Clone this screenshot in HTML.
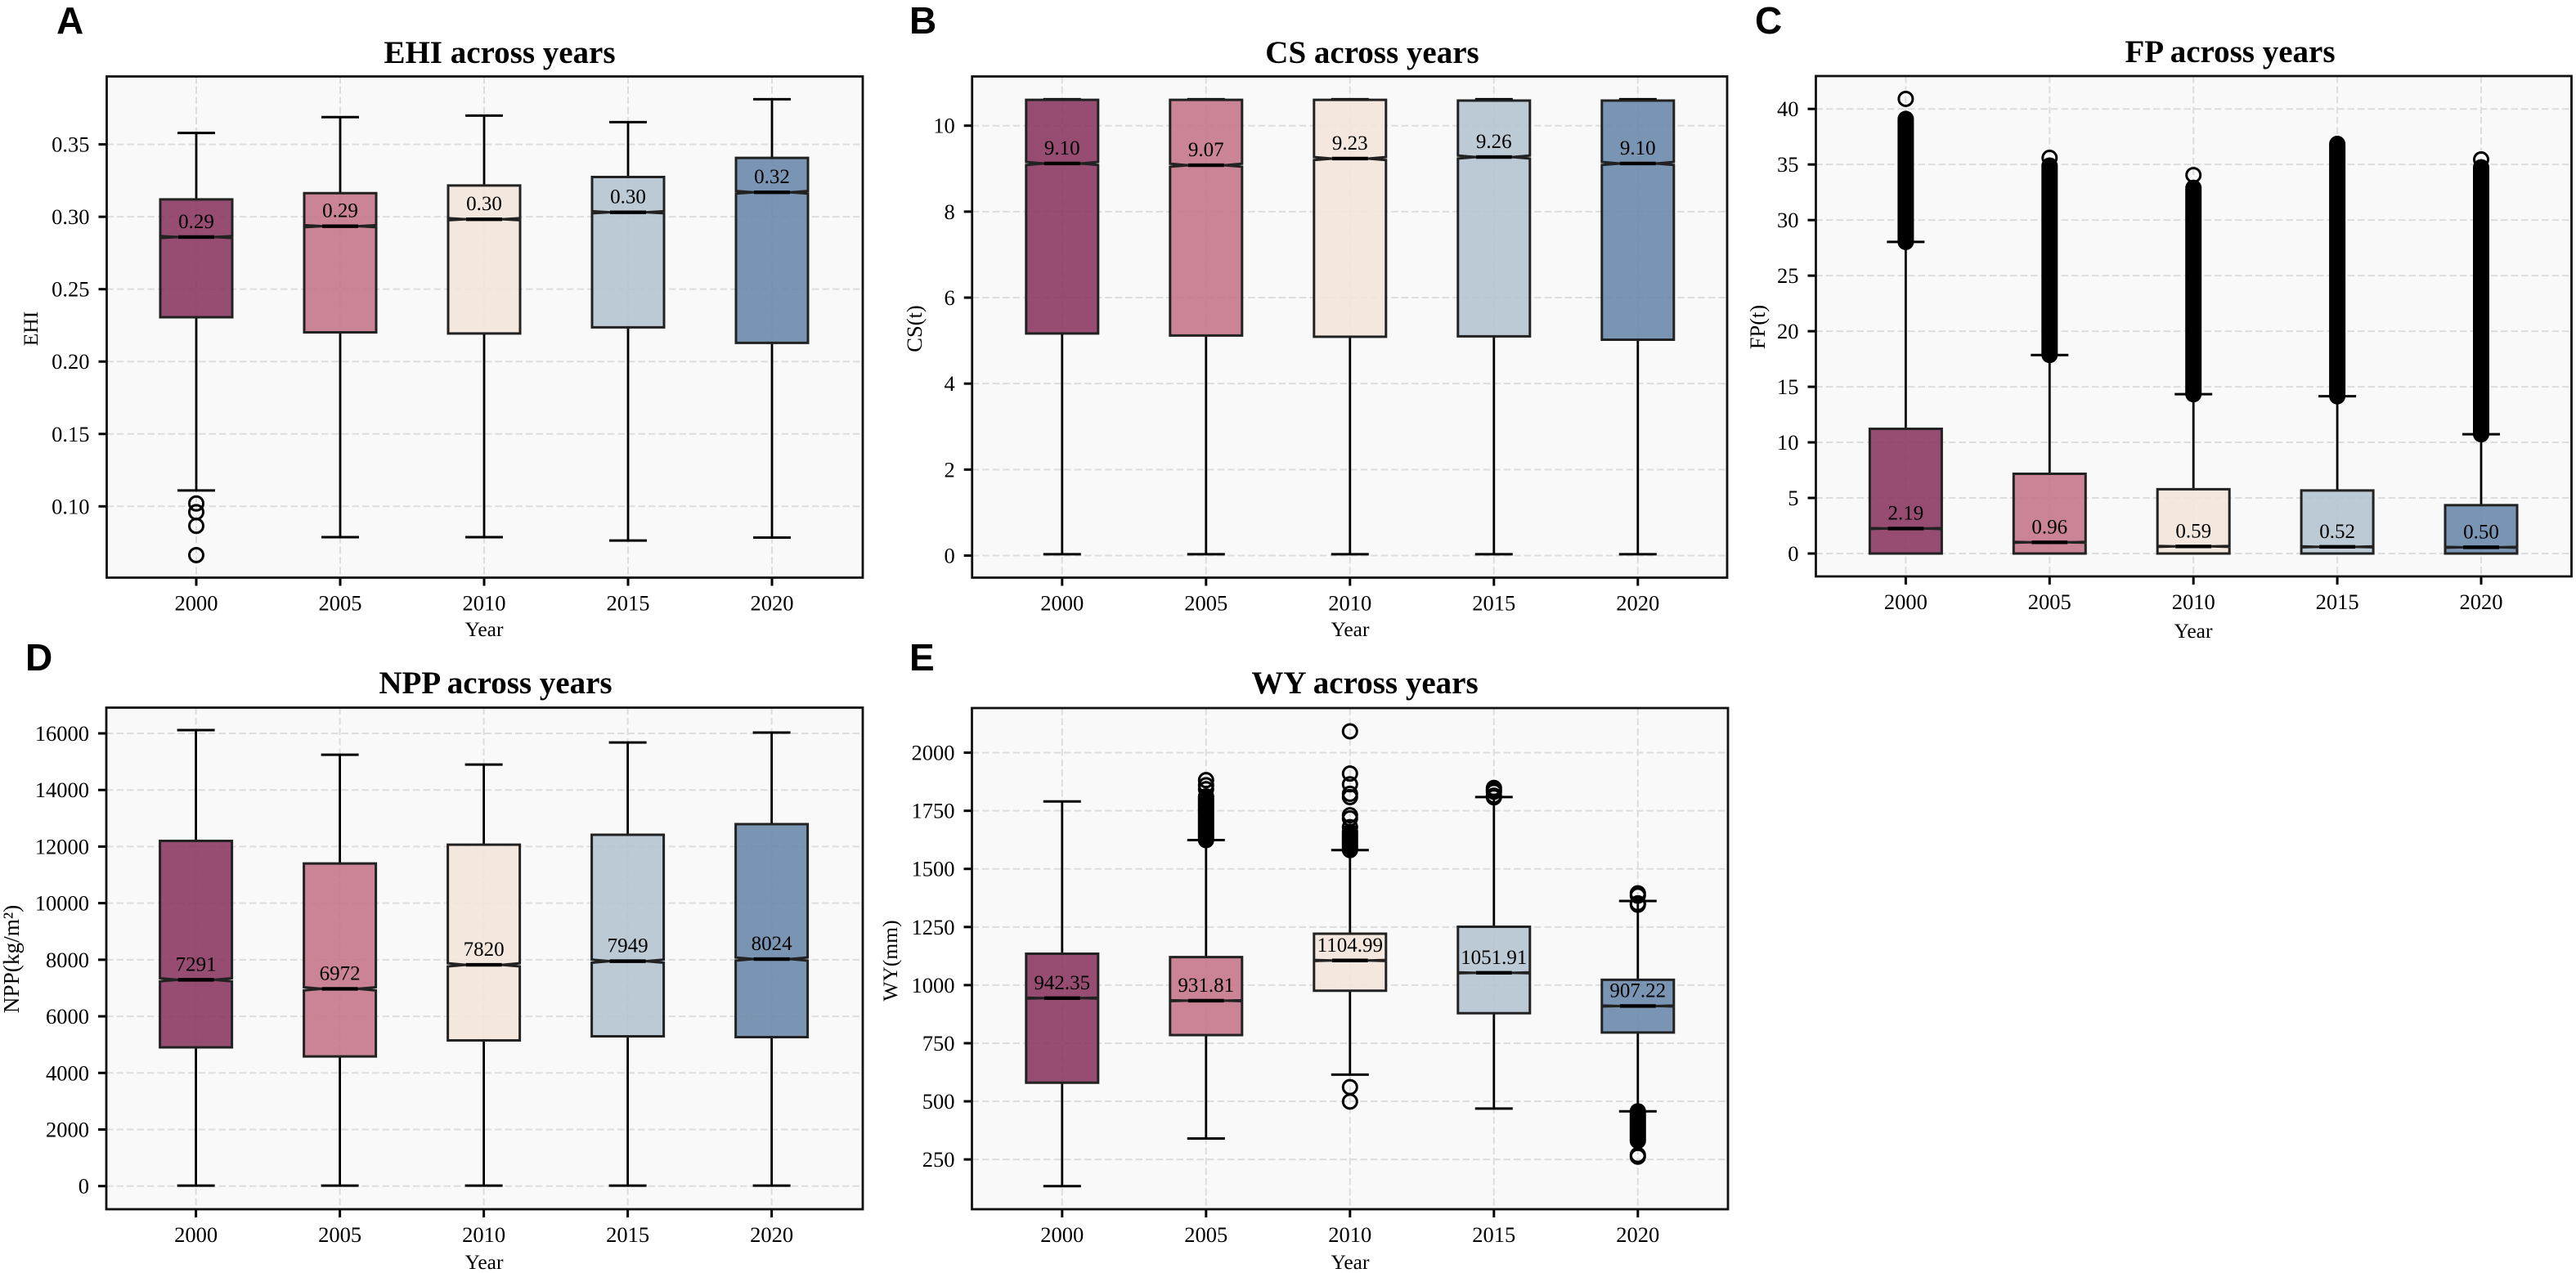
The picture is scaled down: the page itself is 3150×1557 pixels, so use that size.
<!DOCTYPE html>
<html lang="en">
<head>
<meta charset="utf-8">
<title>Boxplots of EHI, CS, FP, NPP and WY across years</title>
<style>
  html, body { margin: 0; padding: 0; background: #ffffff; }
  svg { display: block; font-family: "Liberation Serif", serif; }
  .panel-letter { font-family: "Liberation Sans", sans-serif; font-weight: 700; font-size: 46px; fill: #000; }
  .title { font-weight: 700; font-size: 39px; fill: #000; text-anchor: middle; }
  .axis-label { font-size: 25.5px; fill: #000; text-anchor: middle; }
  .tick-label { font-size: 26.5px; fill: #000; }
  .value-label { font-size: 25px; fill: #000; text-anchor: middle; }
</style>
</head>
<body>
<svg id="figure" xmlns="http://www.w3.org/2000/svg" width="3150" height="1557" viewBox="0 0 3150 1557">
  <rect x="0" y="0" width="3150" height="1557" fill="#ffffff"/>

  <g id="panel-ehi"></g>
  <g id="panel-cs"></g>
  <g id="panel-fp"></g>
  <g id="panel-npp"></g>
  <g id="panel-wy"></g>

  <text class="panel-letter" x="69" y="41">A</text>
  <text class="panel-letter" x="1112" y="41">B</text>
  <text class="panel-letter" x="2146" y="41">C</text>
  <text class="panel-letter" x="31" y="820">D</text>
  <text class="panel-letter" x="1112" y="820">E</text>

  <text class="title" x="611" y="77">EHI across years</text>
  <text class="title" x="1678" y="77">CS across years</text>
  <text class="title" x="2727" y="76">FP across years</text>
  <text class="title" x="606" y="848">NPP across years</text>
  <text class="title" x="1669" y="848">WY across years</text>

  <text class="axis-label" x="592" y="778">Year</text>
  <text class="axis-label" x="1651" y="778">Year</text>
  <text class="axis-label" x="2682" y="780">Year</text>
  <text class="axis-label" x="592" y="1552">Year</text>
  <text class="axis-label" x="1651" y="1552">Year</text>

  <text class="axis-label" transform="translate(46 402) rotate(-90)">EHI</text>
  <text class="axis-label" style="font-size:26.5px" transform="translate(1127 402) rotate(-90)">CS(t)</text>
  <text class="axis-label" style="font-size:26.5px" transform="translate(2158 400) rotate(-90)">FP(t)</text>
  <text class="axis-label" style="font-size:27.3px" transform="translate(23 1173) rotate(-90)">NPP(kg/m²)</text>
  <text class="axis-label" transform="translate(1097 1175) rotate(-90)">WY(mm)</text>
</svg>

<script>
// ---------- shared categories ----------
const years = ['2000', '2005', '2010', '2015', '2020'];

// ---------- EHI ----------
const ehiTicks = [0.10, 0.15, 0.20, 0.25, 0.30, 0.35];
const ehiTickLabels = ['0.10', '0.15', '0.20', '0.25', '0.30', '0.35'];
const ehiLow = [0.111, 0.0787, 0.0787, 0.0764, 0.0784];
const ehiQ1 = [0.2306, 0.2202, 0.2194, 0.2236, 0.2129];
const ehiMedian = [0.2860, 0.2935, 0.2983, 0.3031, 0.3169];
const ehiQ3 = [0.3120, 0.3163, 0.3216, 0.3275, 0.3407];
const ehiHigh = [0.3579, 0.3688, 0.3699, 0.3654, 0.3812];
const ehiLabels = ['0.29', '0.29', '0.30', '0.30', '0.32'];
const ehiNotch = [0.0007, 0.0007, 0.0007, 0.0007, 0.0009];
const ehiOutliers = [[0.102, 0.096, 0.0865, 0.0663], [], [], [], []];
const ehiBands = [[], [], [], [], []];

// ---------- CS ----------
const csTicks = [0, 2, 4, 6, 8, 10];
const csTickLabels = ['0', '2', '4', '6', '8', '10'];
const csLow = [0.03, 0.03, 0.03, 0.03, 0.03];
const csQ1 = [5.165, 5.118, 5.09, 5.10, 5.02];
const csMedian = [9.12, 9.08, 9.234, 9.27, 9.12];
const csQ3 = [10.6, 10.6, 10.6, 10.585, 10.585];
const csHigh = [10.615, 10.615, 10.615, 10.615, 10.615];
const csLabels = ['9.10', '9.07', '9.23', '9.26', '9.10'];
const csNotch = [0.035, 0.035, 0.035, 0.035, 0.035];
const csOutliers = [[], [], [], [], []];
const csBands = [[], [], [], [], []];

// ---------- FP ----------
const fpTicks = [0, 5, 10, 15, 20, 25, 30, 35, 40];
const fpTickLabels = ['0', '5', '10', '15', '20', '25', '30', '35', '40'];
const fpLow = [0, 0, 0, 0, 0];
const fpQ1 = [0, 0, 0, 0, 0];
const fpMedian = [2.25, 1.01, 0.64, 0.60, 0.56];
const fpQ3 = [11.22, 7.17, 5.78, 5.67, 4.35];
const fpHigh = [28.03, 17.86, 14.33, 14.15, 10.73];
const fpLabels = ['2.19', '0.96', '0.59', '0.52', '0.50'];
const fpNotch = [0.04, 0.04, 0.04, 0.04, 0.04];
const fpOutliers = [[40.9], [35.6], [34.05], [36.85], [35.45]];
const fpBands = [[[28.03, 39.1]], [[17.86, 34.9]], [[14.33, 32.9]], [[14.15, 36.7]], [[10.73, 34.75]]];

// ---------- NPP ----------
const nppTicks = [0, 2000, 4000, 6000, 8000, 10000, 12000, 14000, 16000];
const nppTickLabels = ['0', '2000', '4000', '6000', '8000', '10000', '12000', '14000', '16000'];
const nppLow = [15, 15, 15, 15, 15];
const nppQ1 = [4903, 4584, 5149, 5294, 5265];
const nppMedian = [7291, 6972, 7820, 7949, 8024];
const nppQ3 = [12199, 11401, 12068, 12416, 12794];
const nppHigh = [16115, 15245, 14897, 15680, 16029];
const nppLabels = ['7291', '6972', '7820', '7949', '8024'];
const nppNotch = [55, 55, 55, 55, 55];
const nppOutliers = [[], [], [], [], []];
const nppBands = [[], [], [], [], []];

// ---------- WY ----------
const wyTicks = [250, 500, 750, 1000, 1250, 1500, 1750, 2000];
const wyTickLabels = ['250', '500', '750', '1000', '1250', '1500', '1750', '2000'];
const wyLow = [135, 340, 615, 469, 457];
const wyQ1 = [580, 785, 976, 879, 796];
const wyMedian = [944, 933, 1106, 1053, 910];
const wyQ3 = [1135, 1120.6, 1221, 1251, 1023];
const wyHigh = [1790, 1624, 1581, 1809, 1362];
const wyLabels = ['942.35', '931.81', '1104.99', '1051.91', '907.22'];
const wyNotch = [2, 2, 2, 2, 2];
const wyOutliers = [
  [],
  [1882, 1860, 1843],
  [2092, 1910, 1864, 1823, 1809, 1731, 1717, 1680, 561, 499],
  [1848, 1840, 1832, 1815, 1808],
  [1395, 1385, 1352, 1346, 269, 262]
];
const wyBands = [[], [[1624, 1812]], [[1581, 1660]], [], [[457, 330]]];

// ---------- figure styling (not data) ----------
const boxFills = ['#8B3A62', '#C4778A', '#F3E5DA', '#B5C4D1', '#6B8AAB'];
const NS = 'http://www.w3.org/2000/svg';

const panels = [
  { key: 'ehi', node: 'panel-ehi', left: 130.5, right: 1055, top: 93.5, bottom: 706.5, firstX: 240, stepX: 176,
    vA: 0.35, pxA: 176.6, vB: 0.10, pxB: 619.3,
    ticks: ehiTicks, tickLabels: ehiTickLabels, low: ehiLow, q1: ehiQ1, median: ehiMedian, q3: ehiQ3, high: ehiHigh,
    labels: ehiLabels, notch: ehiNotch, outliers: ehiOutliers, bands: ehiBands },
  { key: 'cs', node: 'panel-cs', left: 1188.7, right: 2112, top: 93.5, bottom: 706.5, firstX: 1298.8, stepX: 176,
    vA: 10, pxA: 153.7, vB: 0, pxB: 679.5,
    ticks: csTicks, tickLabels: csTickLabels, low: csLow, q1: csQ1, median: csMedian, q3: csQ3, high: csHigh,
    labels: csLabels, notch: csNotch, outliers: csOutliers, bands: csBands },
  { key: 'fp', node: 'panel-fp', left: 2220.5, right: 3144.5, top: 93, bottom: 705, firstX: 2330.4, stepX: 175.9,
    vA: 40, pxA: 133.2, vB: 0, pxB: 677,
    ticks: fpTicks, tickLabels: fpTickLabels, low: fpLow, q1: fpQ1, median: fpMedian, q3: fpQ3, high: fpHigh,
    labels: fpLabels, notch: fpNotch, outliers: fpOutliers, bands: fpBands },
  { key: 'npp', node: 'panel-npp', left: 130, right: 1055, top: 865.5, bottom: 1479, firstX: 239.6, stepX: 176,
    vA: 16000, pxA: 897, vB: 0, pxB: 1450.7,
    ticks: nppTicks, tickLabels: nppTickLabels, low: nppLow, q1: nppQ1, median: nppMedian, q3: nppQ3, high: nppHigh,
    labels: nppLabels, notch: nppNotch, outliers: nppOutliers, bands: nppBands },
  { key: 'wy', node: 'panel-wy', left: 1188.5, right: 2113, top: 866, bottom: 1479, firstX: 1298.8, stepX: 176,
    vA: 2000, pxA: 920.6, vB: 250, pxB: 1418.1,
    ticks: wyTicks, tickLabels: wyTickLabels, low: wyLow, q1: wyQ1, median: wyMedian, q3: wyQ3, high: wyHigh,
    labels: wyLabels, notch: wyNotch, outliers: wyOutliers, bands: wyBands }
];

function shape(parent, tag, attrs) {
  const el = document.createElementNS(NS, tag);
  for (const k in attrs) el.setAttribute(k, attrs[k]);
  parent.appendChild(el);
  return el;
}

function drawPanel(p) {
  const root = document.getElementById(p.node);
  const xScale = i => p.firstX + i * p.stepX;
  const yScale = v => p.pxA + (v - p.vA) * (p.pxB - p.pxA) / (p.vB - p.vA);

  // plot background
  const bg = shape(root, 'rect', { x: p.left, y: p.top, width: p.right - p.left, height: p.bottom - p.top, fill: '#F9F9F9' });
  
  

  // horizontal gridlines, y ticks, y tick labels
  p.ticks.forEach((t, i) => {
    const y = yScale(t);
    const grid = shape(root, 'line', { x1: p.left, x2: p.right, y1: y, y2: y, stroke: '#DDDDDD', 'stroke-width': 2, 'stroke-dasharray': '8.5 4' });
    
    
    const tick = shape(root, 'line', { x1: p.left - 10, x2: p.left, y1: y, y2: y, stroke: '#000', 'stroke-width': 3 });
    
    
    const lab = shape(root, 'text', { x: p.left - 21, y: y + 9, class: 'tick-label', 'text-anchor': 'end' });
    
    
    lab.textContent = p.tickLabels[i];
  });

  // vertical gridlines, x ticks, x tick labels
  years.forEach((yr, i) => {
    const x = xScale(i);
    const grid = shape(root, 'line', { x1: x, x2: x, y1: p.top, y2: p.bottom, stroke: '#DDDDDD', 'stroke-width': 2, 'stroke-dasharray': '8.5 4' });
    
    
    const tick = shape(root, 'line', { x1: x, x2: x, y1: p.bottom, y2: p.bottom + 10, stroke: '#000', 'stroke-width': 3 });
    
    
    const lab = shape(root, 'text', { x: x, y: p.bottom + 40, class: 'tick-label', 'text-anchor': 'middle' });
    
    
    lab.textContent = yr;
  });

  // boxes
  const halfBox = 44, halfCap = 23, halfWaist = 22;
  years.forEach((yr, i) => {
    const cx = xScale(i);
    const yHigh = yScale(p.high[i]), yLow = yScale(p.low[i]);
    const yQ1 = yScale(p.q1[i]), yQ3 = yScale(p.q3[i]), yMed = yScale(p.median[i]);
    const yNotchLo = yScale(p.median[i] - p.notch[i]), yNotchHi = yScale(p.median[i] + p.notch[i]);
    const g = shape(root, 'g', {});
    
    

    // outlier bands: runs of outliers so dense they read as a solid column
    p.bands[i].forEach(b => {
      const band = shape(g, 'line', { x1: cx, x2: cx, y1: yScale(b[0]), y2: yScale(b[1]), stroke: '#000', 'stroke-width': 20, 'stroke-linecap': 'round' });
      
      
    });
    p.outliers[i].forEach(v => {
      const c = shape(g, 'circle', { cx: cx, cy: yScale(v), r: 8.5, fill: 'none', stroke: '#000', 'stroke-width': 3 });
      
      
    });

    // whiskers and caps
    const upper = shape(g, 'line', { x1: cx, x2: cx, y1: yQ3, y2: yHigh, stroke: '#000', 'stroke-width': 2.8 });
    
    
    const lower = shape(g, 'line', { x1: cx, x2: cx, y1: yQ1, y2: yLow, stroke: '#000', 'stroke-width': 2.8 });
    
    
    const capHi = shape(g, 'line', { x1: cx - halfCap, x2: cx + halfCap, y1: yHigh, y2: yHigh, stroke: '#000', 'stroke-width': 3 });
    
    
    const capLo = shape(g, 'line', { x1: cx - halfCap, x2: cx + halfCap, y1: yLow, y2: yLow, stroke: '#000', 'stroke-width': 3 });
    
    

    // notched box
    const x0 = cx - halfBox, x1 = cx + halfBox;
    const pts = [
      [x0, yQ1], [x1, yQ1], [x1, yNotchLo], [cx + halfWaist, yMed], [x1, yNotchHi],
      [x1, yQ3], [x0, yQ3], [x0, yNotchHi], [cx - halfWaist, yMed], [x0, yNotchLo]
    ].map(q => q.join(',')).join(' ');
    const box = shape(g, 'polygon', { points: pts, fill: boxFills[i], 'fill-opacity': 0.9, stroke: '#222222', 'stroke-width': 3, 'stroke-linejoin': 'miter' });
    
    

    // median
    const med = shape(g, 'line', { x1: cx - halfWaist, x2: cx + halfWaist, y1: yMed, y2: yMed, stroke: '#000', 'stroke-width': 4.4 });
    
    

    // printed median value
    const val = shape(g, 'text', { x: cx, y: yMed - 11, class: 'value-label' });
    
    
    val.textContent = p.labels[i];
  });

  // axes frame
  const frame = shape(root, 'rect', { x: p.left, y: p.top, width: p.right - p.left, height: p.bottom - p.top, fill: 'none', stroke: '#111', 'stroke-width': 2.8 });
  
  
}

panels.forEach(drawPanel);
</script>
</body>
</html>
